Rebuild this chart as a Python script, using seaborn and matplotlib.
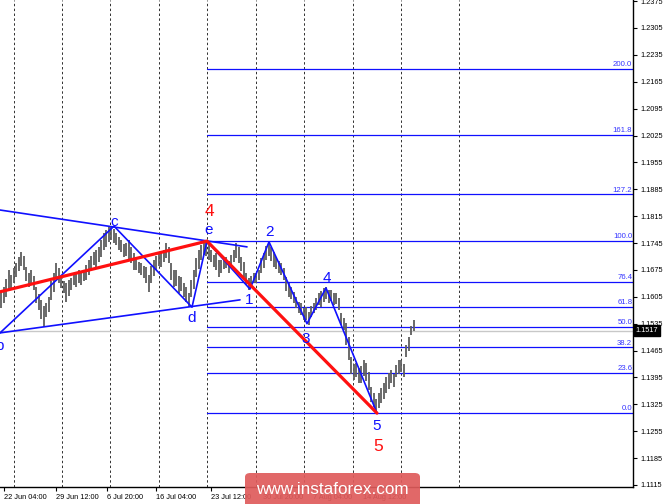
"""
EUR/USD H4 - wave markup med Fibonacci-nivåer
"""
import numpy as np
import pandas as pd
import matplotlib
matplotlib.use("Agg")
import matplotlib.pyplot as plt
import matplotlib.transforms as mtransforms
from matplotlib.patches import FancyBboxPatch
import seaborn as sns

# --- prisdata (high / low per bar) ---
highs = [
    1.1614, 1.1630, 1.1652, 1.1675, 1.1662, 1.1680, 1.1694, 1.1709, 1.1722, 1.1710,
    1.1683, 1.1667, 1.1675, 1.1660, 1.1630, 1.1612, 1.1597, 1.1580, 1.1590, 1.1604,
    1.1645, 1.1667, 1.1693, 1.1680, 1.1657, 1.1645, 1.1640, 1.1649, 1.1655, 1.1667,
    1.1668, 1.1675, 1.1670, 1.1675, 1.1688, 1.1701, 1.1710, 1.1722, 1.1728, 1.1735,
    1.1752, 1.1771, 1.1778, 1.1787, 1.1790, 1.1782, 1.1771, 1.1760, 1.1753, 1.1742,
    1.1745, 1.1753, 1.1735, 1.1718, 1.1701, 1.1695, 1.1693, 1.1685, 1.1683, 1.1662,
    1.1685, 1.1701, 1.1710, 1.1719, 1.1720, 1.1727, 1.1745, 1.1735, 1.1693, 1.1675,
    1.1675, 1.1660, 1.1657, 1.1642, 1.1630, 1.1615, 1.1650, 1.1675, 1.1705, 1.1727,
    1.1740, 1.1753, 1.1750, 1.1742, 1.1727, 1.1715, 1.1719, 1.1700, 1.1700, 1.1709,
    1.1709, 1.1698, 1.1715, 1.1727, 1.1745, 1.1735, 1.1709, 1.1695, 1.1667, 1.1655,
    1.1660, 1.1667, 1.1668, 1.1675, 1.1705, 1.1719, 1.1738, 1.1748, 1.1735, 1.1722,
    1.1709, 1.1698, 1.1693, 1.1680, 1.1657, 1.1640, 1.1630, 1.1618, 1.1604, 1.1592,
    1.1589, 1.1577, 1.1578, 1.1565, 1.1580, 1.1589, 1.1603, 1.1615, 1.1620, 1.1628,
    1.1630, 1.1624, 1.1623, 1.1615, 1.1615, 1.1603, 1.1563, 1.1550, 1.1537, 1.1500,
    1.1448, 1.1430, 1.1432, 1.1420, 1.1425, 1.1440, 1.1432, 1.1410, 1.1370, 1.1355,
    1.1340, 1.1354, 1.1368, 1.1380, 1.1395, 1.1407, 1.1415, 1.1405, 1.1428, 1.1440,
    1.1440, 1.1430, 1.1480, 1.1500, 1.1530, 1.1545,
]
lows = [
    1.1576, 1.1590, 1.1604, 1.1626, 1.1623, 1.1640, 1.1657, 1.1672, 1.1686, 1.1675,
    1.1646, 1.1630, 1.1640, 1.1623, 1.1590, 1.1571, 1.1548, 1.1526, 1.1552, 1.1566,
    1.1597, 1.1618, 1.1652, 1.1641, 1.1628, 1.1615, 1.1591, 1.1606, 1.1623, 1.1635,
    1.1630, 1.1642, 1.1636, 1.1645, 1.1649, 1.1662, 1.1675, 1.1688, 1.1683, 1.1696,
    1.1709, 1.1728, 1.1735, 1.1748, 1.1752, 1.1745, 1.1740, 1.1727, 1.1722, 1.1709,
    1.1710, 1.1701, 1.1692, 1.1675, 1.1675, 1.1667, 1.1662, 1.1654, 1.1640, 1.1617,
    1.1641, 1.1658, 1.1675, 1.1686, 1.1683, 1.1695, 1.1705, 1.1693, 1.1650, 1.1630,
    1.1632, 1.1615, 1.1620, 1.1604, 1.1592, 1.1578, 1.1604, 1.1625, 1.1657, 1.1678,
    1.1701, 1.1715, 1.1712, 1.1701, 1.1695, 1.1683, 1.1675, 1.1657, 1.1667, 1.1678,
    1.1680, 1.1667, 1.1683, 1.1695, 1.1705, 1.1693, 1.1672, 1.1657, 1.1635, 1.1623,
    1.1630, 1.1640, 1.1641, 1.1650, 1.1667, 1.1680, 1.1701, 1.1712, 1.1698, 1.1683,
    1.1678, 1.1667, 1.1662, 1.1649, 1.1620, 1.1604, 1.1600, 1.1589, 1.1575, 1.1563,
    1.1558, 1.1545, 1.1545, 1.1532, 1.1552, 1.1562, 1.1571, 1.1583, 1.1578, 1.1592,
    1.1598, 1.1589, 1.1594, 1.1584, 1.1585, 1.1571, 1.1532, 1.1519, 1.1480, 1.1440,
    1.1405, 1.1388, 1.1395, 1.1380, 1.1380, 1.1398, 1.1385, 1.1362, 1.1332, 1.1318,
    1.1302, 1.1315, 1.1328, 1.1340, 1.1354, 1.1365, 1.1380, 1.1370, 1.1396, 1.1405,
    1.1410, 1.1396, 1.1448, 1.1465, 1.1505, 1.1517,
]
last_price = 1.1517

# --- bølgemarkering (bar-indeks, pris) ---
tri_x = [-0.5, 45.1, 76.3, 82.3]            # b - c - d - e
tri_y = [1.1511, 1.1789, 1.1578, 1.1750]
imp_x = [82.3, 99.5, 107.1, 122.3, 129.9, 150.3]   # e - 1 - 2 - 3 - 4 - 5
imp_y = [1.1750, 1.1625, 1.1748, 1.1535, 1.1628, 1.1302]
upper_x = [-0.5, 98.3]
upper_y = [1.1831, 1.1735]
lower_x = [-0.5, 95.5]
lower_y = [1.1511, 1.1597]
red_x = [-0.5, 82.3, 150.3]
red_y = [1.1618, 1.1750, 1.1302]

blue_labels = ["b", "c", "d", "e", "1", "2", "3", "4", "5"]
blue_lab_x = [-1.0, 45.1, 76.3, 83.1, 99.1, 107.1, 121.9, 130.3, 150.3]
blue_lab_y = [1.1478, 1.1800, 1.1550, 1.1779, 1.1597, 1.1774, 1.1495, 1.1654, 1.1268]
red_labels = ["4", "5"]
red_lab_x = [83.1, 150.7]
red_lab_y = [1.1826, 1.1214]

# --- Fibonacci ---
fib_levels = [0.0, 23.6, 38.2, 50.0, 61.8, 76.4, 100.0, 127.2, 161.8, 200.0]
fib_low = 1.1302
fib_high = 1.1750
fib_start = 82.3

# --- akser ---
grid_x = [5.1, 24.3, 43.5, 63.1, 82.3, 101.9, 121.1, 140.7, 159.9, 183.1]
date_x = [1.1, 21.9, 42.3, 61.9, 83.9, 104.7, 124.7, 144.7]
date_labels = ["22 Jun 04:00", "29 Jun 12:00", "6 Jul 20:00", "16 Jul 04:00",
               "23 Jul 12:00", "30 Jul 20:00", "7 Aug 04:00", "14 Aug 12:00"]
y_ticks = [1.1115, 1.1185, 1.1255, 1.1325, 1.1395, 1.1465, 1.1535, 1.1605, 1.1675,
           1.1745, 1.1815, 1.1885, 1.1955, 1.2025, 1.2095, 1.2165, 1.2235, 1.2305, 1.2375]

sns.set_style("white")
plt.rcParams['font.family'] = ['Liberation Sans', 'DejaVu Sans']

BLUE = "#1010ff"
RED = "#ff1010"

fig = plt.figure(figsize=(6.65, 5.04), dpi=100)
ax = fig.add_axes([0, 17 / 504, 633 / 665, 487 / 504])
ax.set_xlim(-0.5, 252.7)
ax.set_ylim(1.11097, 1.23779)

# vertikale grid-linjer
for gx in grid_x:
    ax.axvline(gx, color="#303030", lw=0.7, ls=(0, (2.5, 2.5)), zorder=0)

# bid-linje
ax.axhline(last_price, color="#c8c8c8", lw=1.0, zorder=1)

# Fibonacci-nivåer
for lev in fib_levels:
    price = fib_low + (fib_high - fib_low) * lev / 100.0
    ax.plot([fib_start, 252.7], [price, price], color=BLUE, lw=0.9, zorder=2)
    ax.text(252.4, price + 0.0002, f"{lev:.1f}", color="#3535ff", fontsize=5.6,
            ha="right", va="bottom", zorder=5)

# prisbarer
idx = np.arange(len(highs))
ax.vlines(idx, lows, highs, color="#5e5e5e", lw=1.3, zorder=3)

# bølgelinjer
for xs, ys, col, lw in [(tri_x, tri_y, BLUE, 1.2), (imp_x, imp_y, BLUE, 1.2),
                        (upper_x, upper_y, BLUE, 1.2), (lower_x, lower_y, BLUE, 1.2),
                        (red_x, red_y, RED, 2.3)]:
    df = pd.DataFrame({"x": xs, "y": ys})
    sns.lineplot(data=df, x="x", y="y", sort=False, estimator=None,
                 color=col, lw=lw, ax=ax, legend=False, zorder=4)

for t, x, y in zip(blue_labels, blue_lab_x, blue_lab_y):
    ax.text(x, y, t, color=BLUE, fontsize=11, ha="center", va="center", zorder=6)
for t, x, y in zip(red_labels, red_lab_x, red_lab_y):
    ax.text(x, y, t, color=RED, fontsize=12.5, ha="center", va="center", zorder=6)

# akseoppsett
ax.set_xlabel("")
ax.set_ylabel("")
ax.yaxis.tick_right()
ax.set_yticks(y_ticks)
ax.set_yticklabels([f"{v:.4f}" for v in y_ticks])
ax.set_xticks(date_x)
ax.set_xticklabels(date_labels, ha="left")
ax.tick_params(axis="y", direction="out", length=3, width=0.8, pad=2,
               labelsize=5.3, colors="black", right=True, left=False)
ax.tick_params(axis="x", direction="out", length=3, width=0.8, pad=2,
               labelsize=5.3, colors="black", bottom=True)
for s in ["top", "left"]:
    ax.spines[s].set_visible(False)
for s in ["right", "bottom"]:
    ax.spines[s].set_color("black")
    ax.spines[s].set_linewidth(1.0)

# prisetikett
trans = mtransforms.blended_transform_factory(ax.transAxes, ax.transData)
ax.text(1.004, last_price, f"{last_price:.4f}", transform=trans, color="white",
        fontsize=5.3, ha="left", va="center", clip_on=False, zorder=7,
        bbox=dict(boxstyle="square,pad=0.25", fc="black", ec="black"))

# vannmerke
wm = FancyBboxPatch((245 / 665, -0.02), 175 / 665, 31 / 504 + 0.02,
                    boxstyle="round,pad=0,rounding_size=0.008",
                    transform=fig.transFigure, fc="#df5b5b", ec="none",
                    alpha=0.92, zorder=10)
fig.patches.append(wm)
fig.text(332.5 / 665, 15 / 504, "www.instaforex.com", color="white",
         fontsize=12.3, ha="center", va="center", zorder=11)

fig.savefig("out.png", dpi=100)
